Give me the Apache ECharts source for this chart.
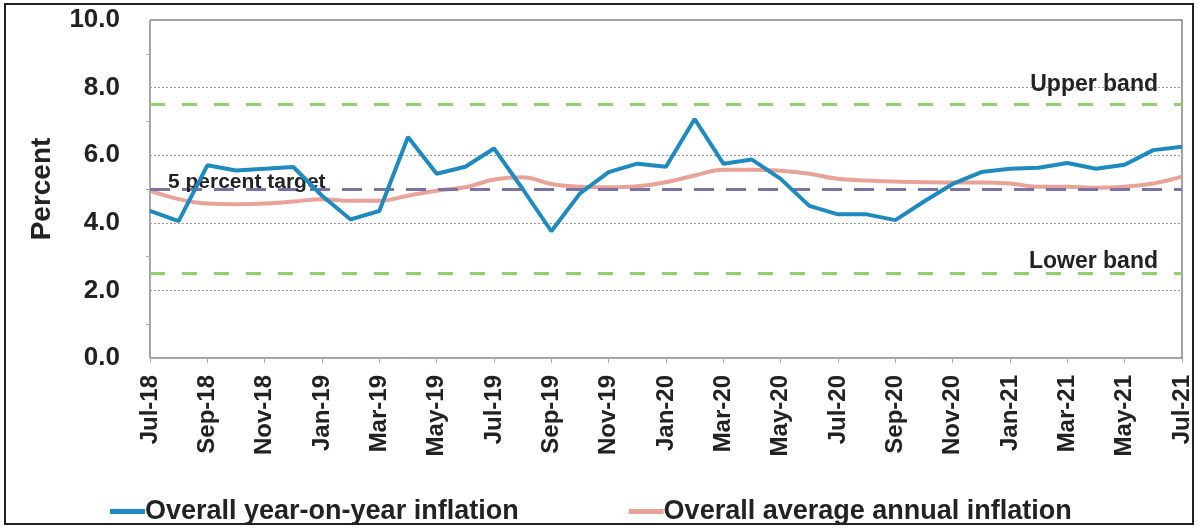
<!DOCTYPE html>
<html>
<head>
<meta charset="utf-8">
<script src="https://cdn.jsdelivr.net/npm/echarts@6/dist/echarts.min.js"></script>
<style>
html,body{margin:0;padding:0;background:#fff;}
#chart{width:1199px;height:531px;}
</style>
</head>
<body>
<div id="chart"></div>
<script>
const categories = ['Jul-18','Aug-18','Sep-18','Oct-18','Nov-18','Dec-18','Jan-19','Feb-19','Mar-19','Apr-19','May-19','Jun-19',
  'Jul-19','Aug-19','Sep-19','Oct-19','Nov-19','Dec-19','Jan-20','Feb-20','Mar-20','Apr-20','May-20','Jun-20',
  'Jul-20','Aug-20','Sep-20','Oct-20','Nov-20','Dec-20','Jan-21','Feb-21','Mar-21','Apr-21','May-21','Jun-21','Jul-21'];
const yoyInflation = [4.35,4.05,5.7,5.55,5.6,5.65,4.8,4.1,4.35,6.54,5.45,5.66,6.2,5.0,3.75,4.87,5.5,5.75,5.66,7.07,5.75,5.87,5.3,4.5,
  4.25,4.25,4.08,4.63,5.15,5.5,5.6,5.63,5.77,5.6,5.72,6.15,6.25];
const avgInflation = [4.95,4.7,4.57,4.55,4.57,4.63,4.7,4.65,4.65,4.8,4.95,5.05,5.28,5.35,5.15,5.07,5.05,5.08,5.2,5.4,5.57,5.57,5.54,5.45,
  5.3,5.25,5.22,5.2,5.19,5.19,5.16,5.07,5.07,5.04,5.07,5.16,5.37];
const targetValue = 5.0;
const upperBand = 7.5;
const lowerBand = 2.5;
const yTicks = [0,2,4,6,8,10];

const chart = echarts.init(document.getElementById('chart'));
const font = 'Liberation Sans, Arial, sans-serif';
chart.setOption({
  animation:false,
  textStyle:{fontFamily:font},
  grid:{left:150,right:17,top:20,bottom:173,show:true,borderColor:'#444',borderWidth:1},
  legend:{
    data:['Overall year-on-year inflation','Overall average annual inflation'],
    left:105, top:493, itemGap:110, itemWidth:35, itemHeight:5, icon:'rect',
    textStyle:{fontSize:27,fontWeight:'bold',color:'#222',fontFamily:font,padding:[0,0,0,-5]}
  },
  graphic:[{type:'rect',shape:{x:5,y:4,width:1188,height:520},style:{fill:'none',stroke:'#222',lineWidth:2},silent:true}],
  xAxis:{
    type:'category', data:categories, boundaryGap:false,
    axisLine:{lineStyle:{color:'#aaa'}},
    axisTick:{show:true,interval:1,lineStyle:{color:'#aaa'}},
    axisLabel:{interval:1,rotate:90,fontSize:24,fontWeight:'bold',color:'#222',margin:17},
    splitLine:{show:false}
  },
  yAxis:{
    type:'value', min:yTicks[0], max:yTicks[yTicks.length-1], interval:2,
    name:'Percent', nameLocation:'middle', nameGap:94, nameRotate:90,
    nameTextStyle:{fontSize:28,fontWeight:'bold',color:'#222'},
    axisLine:{show:true,lineStyle:{color:'#aaa'}},
    axisTick:{show:false},
    minorTick:{show:true,splitNumber:2,length:4,lineStyle:{color:'#aaa'}},
    axisLabel:{fontSize:26,fontWeight:'bold',color:'#222',margin:30,formatter:v=>v.toFixed(1)},
    splitLine:{show:true,lineStyle:{color:'#999',type:[2,2],width:1}}
  },
  series:[
    {name:'Overall year-on-year inflation',type:'line',data:yoyInflation,symbol:'none',
     lineStyle:{color:'#1f8ac0',width:4},itemStyle:{color:'#1f8ac0'},z:5},
    {name:'Overall average annual inflation',type:'line',data:avgInflation,symbol:'none',smooth:0.4,
     lineStyle:{color:'#e9a297',width:4},itemStyle:{color:'#e9a297'},z:4,
     markLine:{symbol:'none',silent:true,
       data:[
         {yAxis:targetValue,lineStyle:{color:'#7a72a6',type:[20,12],width:3},
          label:{show:true,formatter:'5 percent target',position:'insideStartTop',distance:[18,-4],fontSize:21,fontWeight:'bold',color:'#222'}},
         {yAxis:upperBand,lineStyle:{color:'#93cf6e',type:[15,17],width:3},
          label:{show:true,formatter:'Upper band',position:'insideEndTop',distance:[24,8],fontSize:23,fontWeight:'bold',color:'#222'}},
         {yAxis:lowerBand,lineStyle:{color:'#93cf6e',type:[15,17],width:3},
          label:{show:true,formatter:'Lower band',position:'insideEndTop',distance:[24,0],fontSize:23,fontWeight:'bold',color:'#222'}}
       ]}}
  ]
});
</script>
</body>
</html>
